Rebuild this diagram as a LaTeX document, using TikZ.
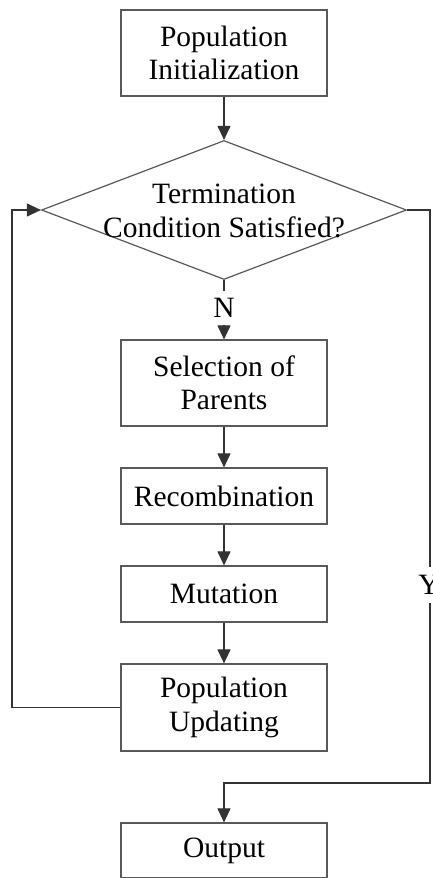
\documentclass[tikz,border=0pt]{standalone}
\usepackage{fontspec}
\setmainfont{Liberation Serif}
\usetikzlibrary{arrows.meta,shapes.geometric}
\begin{document}
\begin{tikzpicture}[x=1pt,y=-1pt,
  font=\fontsize{29.5}{33.5}\selectfont,
  stepbox/.style={draw=black!65, line width=1.2pt, minimum width=206pt, inner sep=0pt, align=center},
  flow/.style={draw=black!80, line width=1.1pt},
  arr/.style={flow, -{Triangle[length=14pt,width=13pt]}},
  lab/.style={inner sep=0pt, minimum height=34pt}]
\useasboundingbox (0,0) rectangle (432,878);
\fill[white] (0,0) rectangle (432,878);
\node[stepbox, minimum height=86pt] (init) at (224,53) {Population\\Initialization};
\node[diamond, draw=black!65, line width=1.2pt, minimum width=365pt, minimum height=139pt, inner sep=0pt] (dec) at (224,210) {};
\node[align=center, inner sep=0pt] (dectext) at (224,211) {Termination\\Condition Satisfied?};
\node[stepbox, minimum height=86pt] (sel) at (224,383) {Selection of\\Parents};
\node[stepbox, minimum height=56pt] (rec) at (224,496) {Recombination};
\node[stepbox, minimum height=56pt] (mut) at (224,594) {Mutation};
\node[stepbox, minimum height=87pt] (upd) at (224,707.5) {Population\\Updating};
\node[stepbox, minimum height=55pt] (out) at (224,850.5) {Output};
\node[lab] (nlab) at (224,308) {N};
\node[lab] (ylab) at (429,585) {Y};
\coordinate (lc) at (12,210);
\coordinate (rc) at (430,210);
\coordinate (bc) at (430,783);
\draw[arr] (init) -- (dec.north);
\draw[flow] (dec.south) -- (nlab.north);
\draw[arr] (nlab.south) -- (sel.north);
\draw[arr] (sel) -- (rec);
\draw[arr] (rec) -- (mut);
\draw[arr] (mut) -- (upd);
\draw[arr] (upd.west) -| (lc) -- (dec.west);
\draw[flow] (dec.east) -- (rc) -- (430,567);
\draw[arr] (430,603) -- (bc) -| (out.north);
\end{tikzpicture}
\end{document}
